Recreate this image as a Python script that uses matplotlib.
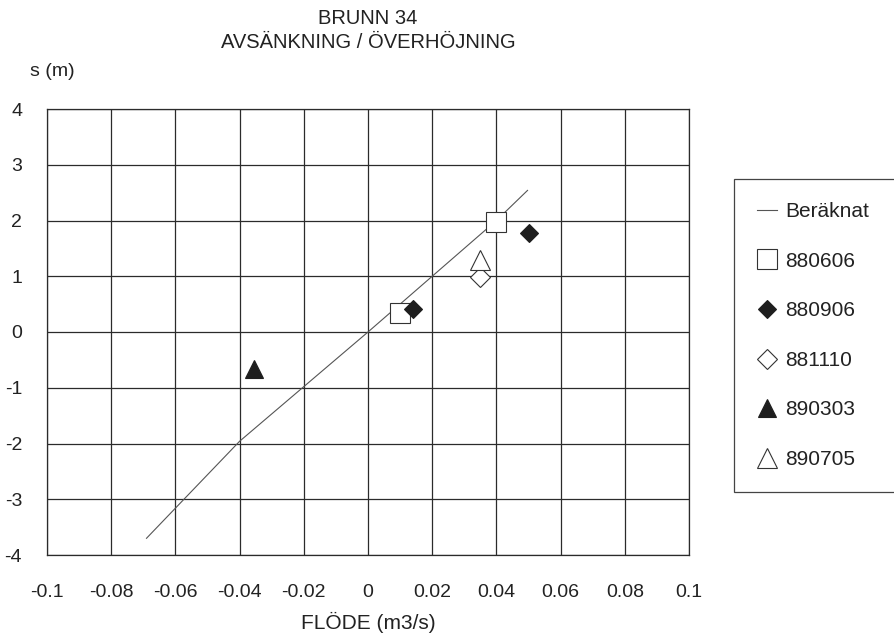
import matplotlib
matplotlib.use("Agg")
import matplotlib.pyplot as plt

plt.rcParams["font.family"] = ["Liberation Sans", "DejaVu Sans"]
plt.rcParams["axes.unicode_minus"] = False

# Calculated drawdown curve
calc_q = [-0.069, -0.04, -0.02, 0.0, 0.02, 0.04, 0.0497]
calc_s = [-3.7, -1.96, -0.98, 0.0, 1.0, 2.0, 2.54]

# Measured points per date
q_880606 = [0.010, 0.040]
s_880606 = [0.34, 1.98]
q_880906 = [0.014, 0.050]
s_880906 = [0.41, 1.78]
q_881110 = [0.035]
s_881110 = [0.99]
q_890303 = [-0.0355]
s_890303 = [-0.67]
q_890705 = [0.035]
s_890705 = [1.30]

x_ticks = [-0.1, -0.08, -0.06, -0.04, -0.02, 0, 0.02, 0.04, 0.06, 0.08, 0.1]
x_tick_labels = ["-0.1", "-0.08", "-0.06", "-0.04", "-0.02", "0",
                 "0.02", "0.04", "0.06", "0.08", "0.1"]
y_ticks = [-4, -3, -2, -1, 0, 1, 2, 3, 4]

W, H = 894, 642
fig = plt.figure(figsize=(W / 100, H / 100), dpi=100)
fig.patch.set_facecolor("white")

left, right, top, bottom = 47, 689, 109, 555
ax = fig.add_axes([left / W, 1 - bottom / H, (right - left) / W, (bottom - top) / H])

ink = "#2b2b2b"
ax.set_xlim(-0.1, 0.1)
ax.set_ylim(-4, 4)
ax.set_xticks(x_ticks)
ax.set_xticklabels(x_tick_labels)
ax.set_yticks(y_ticks)
ax.set_yticklabels([str(v) for v in y_ticks])
ax.tick_params(axis="both", length=0, labelsize=14, colors="#222222")
ax.tick_params(axis="x", pad=21)
ax.tick_params(axis="y", pad=18)
ax.grid(True, color=ink, linewidth=0.9)
ax.set_axisbelow(True)
for sp in ax.spines.values():
    sp.set_color(ink)
    sp.set_linewidth(0.9)

line, = ax.plot(calc_q, calc_s, color="#555555", linewidth=0.8, label="Beräknat", zorder=3)

m1, = ax.plot(q_880606, s_880606, linestyle="none", marker="s", markersize=14,
              markerfacecolor="white", markeredgecolor="#333333", markeredgewidth=0.8,
              label="880606", zorder=4)
m2, = ax.plot(q_880906, s_880906, linestyle="none", marker="D", markersize=9.5,
              markerfacecolor="#1e1e1e", markeredgecolor="#1e1e1e", markeredgewidth=0.8,
              label="880906", zorder=5)
m3, = ax.plot(q_881110, s_881110, linestyle="none", marker="D", markersize=9.8,
              markerfacecolor="white", markeredgecolor="#333333", markeredgewidth=0.8,
              label="881110", zorder=4)
m4, = ax.plot(q_890303, s_890303, linestyle="none", marker="^", markersize=13.5,
              markerfacecolor="#1e1e1e", markeredgecolor="#1e1e1e", markeredgewidth=0.8,
              label="890303", zorder=5)
m5, = ax.plot(q_890705, s_890705, linestyle="none", marker="^", markersize=14,
              markerfacecolor="white", markeredgecolor="#333333", markeredgewidth=0.8,
              label="890705", zorder=4)

ax.set_xlabel("FLÖDE (m3/s)", fontsize=15, color="#222222", labelpad=8)

fig.text(368 / W, 1 - 18 / H, "BRUNN 34", ha="center", va="center",
         fontsize=14.5, color="#222222")
fig.text(368 / W, 1 - 42 / H, "AVSÄNKNING / ÖVERHÖJNING", ha="center", va="center",
         fontsize=14.5, color="#222222")
fig.text(30 / W, 1 - 72 / H, "s (m)", ha="left", va="center",
         fontsize=14, color="#222222")

leg = fig.legend(handles=[line, m1, m2, m3, m4, m5],
                 loc="upper left",
                 bbox_to_anchor=(734 / W, 0.0, 0.3, 1 - 179 / H),
                 bbox_transform=fig.transFigure,
                 mode="expand", borderaxespad=0,
                 fontsize=15, labelspacing=1.47, borderpad=1.1,
                 handlelength=0.95, handletextpad=0.4,
                 fancybox=False, framealpha=1, edgecolor="#444444")
leg.get_frame().set_linewidth(0.9)
for t in leg.get_texts():
    t.set_color("#222222")

fig.savefig("out.png", dpi=100, facecolor="white")
